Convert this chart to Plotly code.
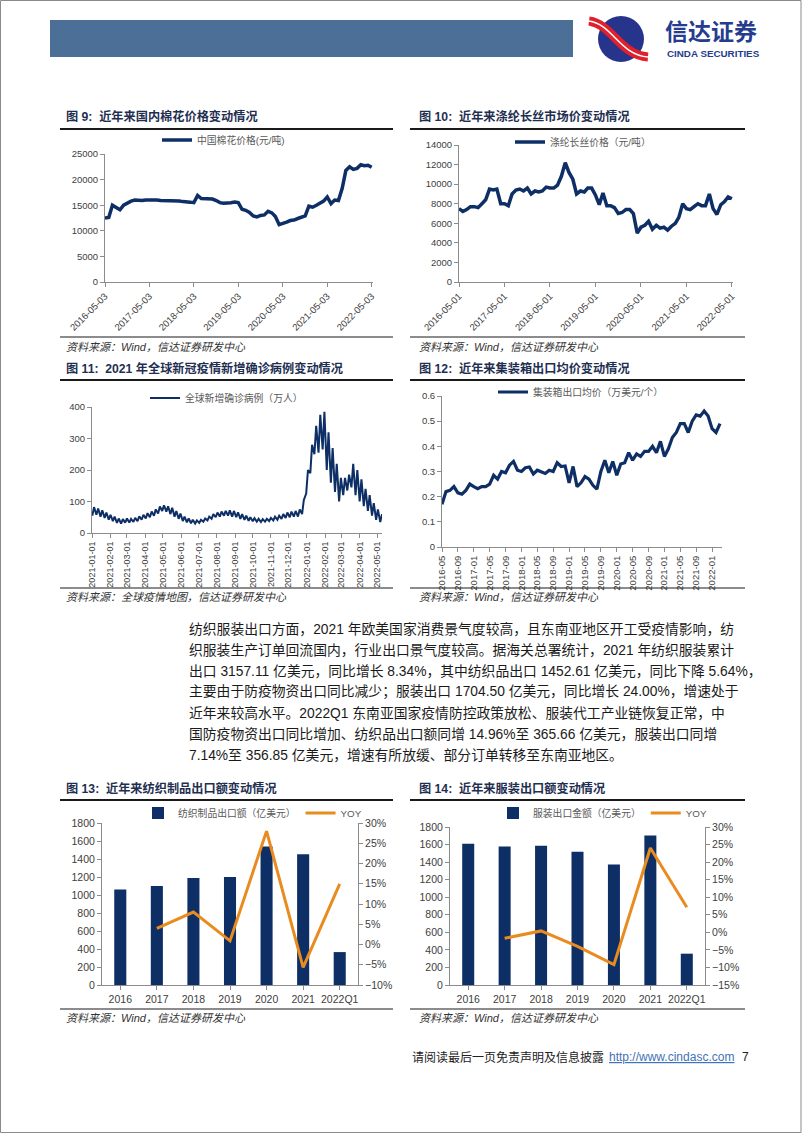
import plotly.graph_objects as go
import pandas as pd

W, H = 802, 1133
def X(px): return px / W
def Y(py): return 1 - py / H

NUM = "Liberation Sans, Arial, Noto Sans CJK SC"
CJK = "Liberation Sans, Noto Sans CJK SC"
NAVY = "#0d2f66"
ORANGE = "#e98c1f"

# ---------------- data ----------------
cotton_price = [12500,12600,15000,14500,14100,15000,15500,15800,16000,15900,
                15900,16000,16000,16100,16000,15900,15900,15900,15900,15900,
                15800,15700,15700,15600,15500,16900,16300,16300,16300,16200,
                15900,15500,15400,15400,15500,15600,15500,14200,14000,13600,
                12900,12700,13000,13100,13800,13500,12800,11200,11400,11700,
                12000,12100,12400,12700,12900,14800,14600,15000,15300,15800,
                16600,15300,16000,15900,18300,21800,22500,22000,22200,22900,
                22700,22800,22400]
cotton_ticks = ["2016-05-03","2017-05-03","2018-05-03","2019-05-03","2020-05-03","2021-05-03","2022-05-03"]

polyester_price = [7500,7200,7400,7700,7700,7600,8000,8400,9500,9400,
                   9500,8000,8000,7800,9000,9400,9500,9300,9600,9000,
                   9300,9200,9300,9700,9600,9600,9900,10800,12200,11200,
                   10500,9000,9300,9200,9600,9600,8900,7900,9100,7800,
                   7800,7600,7000,7100,7400,7400,7000,5000,5600,5800,
                   6200,5400,5800,5500,5600,5300,5700,6000,6600,8000,
                   7500,7400,7700,8000,7800,7800,9000,7500,6900,7900,
                   8200,8700,8500]
polyester_ticks = ["2016-05-01","2017-05-01","2018-05-01","2019-05-01","2020-05-01","2021-05-01","2022-05-01"]

covid_weekly_high = [82,78,72,65,58,52,46,44,46,45,
                     48,53,58,63,68,75,84,88,85,80,
                     70,62,52,46,42,40,42,46,52,60,
                     65,68,70,72,70,66,60,55,50,47,
                     45,44,45,48,52,55,60,65,68,70,
                     75,105,200,280,340,375,385,320,270,220,
                     175,175,185,220,200,170,140,120,95,75,60]
covid_weekly_low = [55,58,52,48,42,38,32,30,33,33,
                    35,38,42,46,50,55,62,70,68,60,
                    52,45,38,34,31,30,32,36,40,45,
                    50,52,55,55,52,50,45,42,39,37,
                    36,35,36,38,40,42,45,48,50,52,
                    52,60,125,190,250,255,265,200,160,130,
                    100,120,135,145,120,100,85,70,55,42,35]
covid_ticks = ["2021-01-01","2021-02-01","2021-03-01","2021-04-01","2021-05-01","2021-06-01",
               "2021-07-01","2021-08-01","2021-09-01","2021-10-01","2021-11-01","2021-12-01",
               "2022-01-01","2022-02-01","2022-03-01","2022-04-01","2022-05-01"]

container_price = [0.17,0.22,0.225,0.24,0.215,0.21,0.225,0.25,0.24,0.232,
                   0.24,0.24,0.25,0.285,0.27,0.30,0.295,0.325,0.34,0.305,
                   0.30,0.315,0.318,0.29,0.305,0.30,0.292,0.305,0.30,0.335,
                   0.32,0.322,0.255,0.32,0.24,0.255,0.28,0.27,0.245,0.23,
                   0.30,0.345,0.295,0.34,0.285,0.33,0.335,0.375,0.345,0.37,
                   0.36,0.38,0.38,0.40,0.375,0.42,0.36,0.39,0.435,0.455,
                   0.49,0.49,0.455,0.50,0.525,0.52,0.54,0.52,0.47,0.455,0.49]

years = ["2016","2017","2018","2019","2020","2021","2022Q1"]
textile_export = [1060,1099,1188,1199,1538,1452.61,365.66]
textile_yoy = [None,0.040,0.080,0.009,0.280,-0.0564,0.1496]
apparel_export = [1610,1579,1587,1518,1374,1704.50,356.85]
apparel_yoy = [None,-0.017,0.004,-0.040,-0.092,0.240,0.0714]

cotton_dates = [pd.Timestamp("2016-05-03") + pd.DateOffset(months=i) for i in range(len(cotton_price))]
polyester_dates = [pd.Timestamp("2016-05-01") + pd.DateOffset(months=i) for i in range(len(polyester_price))]
container_months = [(pd.Timestamp("2016-05-01") + pd.DateOffset(months=i)).strftime("%Y-%m")
                    for i in range(len(container_price))]
covid_x, covid_y = [], []
for i, (lo, hi) in enumerate(zip(covid_weekly_low, covid_weekly_high)):
    d = pd.Timestamp("2021-01-01") + pd.Timedelta(days=7 * i)
    covid_x += [d, d + pd.Timedelta(days=3)]
    covid_y += [lo, hi]

# ---------------- traces ----------------
fig = go.Figure()
fig.add_trace(go.Scatter(x=cotton_dates, y=cotton_price, mode="lines", xaxis="x", yaxis="y",
                         line=dict(color=NAVY, width=3.5), name="中国棉花价格(元/吨)", legend="legend"))
fig.add_trace(go.Scatter(x=polyester_dates, y=polyester_price, mode="lines", xaxis="x2", yaxis="y2",
                         line=dict(color=NAVY, width=3.5), name="涤纶长丝价格（元/吨）", legend="legend2"))
fig.add_trace(go.Scatter(x=covid_x, y=covid_y, mode="lines", xaxis="x3", yaxis="y3",
                         line=dict(color=NAVY, width=2), name="全球新增确诊病例（万人）", legend="legend3"))
fig.add_trace(go.Scatter(x=container_months, y=container_price, mode="lines", xaxis="x4", yaxis="y4",
                         line=dict(color=NAVY, width=3.2), name="集装箱出口均价（万美元/个）", legend="legend4"))
fig.add_trace(go.Bar(x=years, y=textile_export, xaxis="x5", yaxis="y5", width=0.33,
                     marker=dict(color=NAVY, line=dict(width=0)), name="纺织制品出口额（亿美元）", legend="legend5"))
fig.add_trace(go.Scatter(x=years, y=textile_yoy, mode="lines", xaxis="x5", yaxis="y6",
                         line=dict(color=ORANGE, width=3), name="YOY", legend="legend5"))
fig.add_trace(go.Bar(x=years, y=apparel_export, xaxis="x6", yaxis="y7", width=0.33,
                     marker=dict(color=NAVY, line=dict(width=0)), name="服装出口金额（亿美元）", legend="legend6"))
fig.add_trace(go.Scatter(x=years, y=apparel_yoy, mode="lines", xaxis="x6", yaxis="y8",
                         line=dict(color=ORANGE, width=3), name="YOY", legend="legend6"))

def ax(fs=9.5, **kw):
    d = dict(showline=True, linecolor="#8c8c8c", linewidth=1, ticks="outside", ticklen=4,
             tickcolor="#8c8c8c", showgrid=False, zeroline=False, fixedrange=True, automargin=False,
             tickfont=dict(family=NUM, size=fs, color="#404040"))
    d.update(kw)
    return d

def leg(x, y):
    return dict(x=X(x), y=Y(y), xanchor="left", yanchor="middle", orientation="h",
                bgcolor="rgba(0,0,0,0)", font=dict(family=CJK, size=9.8, color="#595959"),
                itemwidth=30, tracegroupgap=0, traceorder="normal", borderwidth=0)

layout = dict(
    template="none",
    width=W, height=H, autosize=False, margin=dict(l=0, r=0, t=0, b=0, pad=0),
    paper_bgcolor="white", plot_bgcolor="white", showlegend=True,
    xaxis=ax(domain=[X(105), X(373)], anchor="y", type="date",
             range=["2016-05-03", "2022-05-14"], tickvals=cotton_ticks, ticktext=cotton_ticks, tickangle=-45),
    yaxis=ax(domain=[Y(282), Y(154)], anchor="x", range=[0, 25000], dtick=5000, tickformat="d"),
    xaxis2=ax(domain=[X(459), X(733)], anchor="y2", type="date",
              range=["2016-05-01", "2022-05-10"], tickvals=polyester_ticks, ticktext=polyester_ticks, tickangle=-45),
    yaxis2=ax(domain=[Y(282), Y(145)], anchor="x2", range=[0, 14000], dtick=2000, tickformat="d"),
    xaxis3=ax(fs=9, domain=[X(92), X(382)], anchor="y3", type="date",
              range=["2020-12-31 12:00", "2022-05-09"], tickvals=covid_ticks, ticktext=covid_ticks, tickangle=-90),
    yaxis3=ax(domain=[Y(533), Y(407)], anchor="x3", range=[0, 400], dtick=100, tickformat="d"),
    xaxis4=ax(fs=9.5, domain=[X(442), X(722)], anchor="y4", type="category", range=[0, 70.5],
              tickvals=container_months[::4], ticktext=container_months[::4], tickangle=-90),
    yaxis4=ax(domain=[Y(547), Y(396)], anchor="x4", range=[0, 0.6], dtick=0.1),
    xaxis5=ax(fs=10.5, domain=[X(102), X(358)], anchor="y5", type="category"),
    yaxis5=ax(fs=10.5, domain=[Y(985), Y(823)], anchor="x5", range=[0, 1800], dtick=200, tickformat="d"),
    yaxis6=ax(fs=10.5, overlaying="y5", anchor="x5", side="right", range=[-0.10, 0.30], dtick=0.05, tickformat=".0%"),
    xaxis6=ax(fs=10.5, domain=[X(450), X(705)], anchor="y7", type="category"),
    yaxis7=ax(fs=10.5, domain=[Y(985), Y(827)], anchor="x6", range=[0, 1800], dtick=200, tickformat="d"),
    yaxis8=ax(fs=10.5, overlaying="y7", anchor="x6", side="right", range=[-0.15, 0.30], dtick=0.05, tickformat=".0%"),
    legend=leg(157, 140),
    legend2=leg(510, 142),
    legend3=leg(145, 398),
    legend4=leg(493, 392),
    legend5=leg(138, 813),
    legend6=leg(493, 813),
)
fig.update_layout(**layout)

shapes = []
def hline(x0, x1, y, w=1.5, c="#1a1a1a"):
    shapes.append(dict(type="line", xref="paper", yref="paper", x0=X(x0), x1=X(x1), y0=Y(y), y1=Y(y),
                       line=dict(color=c, width=w)))

# page border
shapes.append(dict(type="rect", xref="paper", yref="paper", x0=X(0.5), x1=X(801), y0=Y(0.5), y1=Y(1132.5),
                   line=dict(color="#8a8a8a", width=1)))
# header bar
shapes.append(dict(type="rect", xref="paper", yref="paper", x0=X(50), x1=X(573), y0=Y(20), y1=Y(57),
                   fillcolor="#4b6f97", line=dict(width=0)))
# logo
shapes.append(dict(type="circle", xref="paper", yref="paper", x0=X(598), x1=X(644), y0=Y(16), y1=Y(62),
                   fillcolor="#27348b", line=dict(width=0)))
def path(pts):
    s = "M {} {}".format(X(pts[0][0]), Y(pts[0][1]))
    s += " C " + " ".join("{} {}".format(X(a), Y(b)) for a, b in pts[1:])
    return s
swoosh = [(589, 21), (612, 24), (620, 55), (648, 57)]
shapes.append(dict(type="path", xref="paper", yref="paper", path=path(swoosh),
                   line=dict(color="#e0202a", width=9)))
shapes.append(dict(type="path", xref="paper", yref="paper", path=path(swoosh),
                   line=dict(color="white", width=1.5)))

# title / source separators
for (a, b) in [(60, 393), (410, 745)]:
    hline(a, b, 129, 2)
    hline(a, b, 337, 1.2)
    hline(a, b, 380, 2)
    hline(a, b, 588, 1.2)
    hline(a, b, 800, 2)
    hline(a, b, 1009, 1.2)
fig.update_layout(shapes=shapes)

ann = []
def text(x, y, s, size=12, color="#1a1a1a", anchor="left", family=CJK):
    ann.append(dict(xref="paper", yref="paper", x=X(x), y=Y(y), text=s, showarrow=False,
                    xanchor=anchor, yanchor="middle", font=dict(family=family, size=size, color=color)))

text(663, 32, "<b>信达证券</b>", 23, "#253c8f")
text(665, 53, "<b>CINDA SECURITIES</b>", 9.8, "#253c8f")

TC = "#1f2f52"
TS = 12.2
text(64, 116, "<b>图 9:  近年来国内棉花价格变动情况</b>", TS, TC)
text(417, 116, "<b>图 10:  近年来涤纶长丝市场价变动情况</b>", TS, TC)
text(64, 368, "<b>图 11:  2021 年全球新冠疫情新增确诊病例变动情况</b>", TS, TC)
text(417, 368, "<b>图 12:  近年来集装箱出口均价变动情况</b>", TS, TC)
text(64, 788, "<b>图 13:  近年来纺织制品出口额变动情况</b>", TS, TC)
text(417, 788, "<b>图 14:  近年来服装出口额变动情况</b>", TS, TC)

SC = "#333333"
text(64, 347, "<i>资料来源：Wind，信达证券研发中心</i>", 11, SC)
text(417, 347, "<i>资料来源：Wind，信达证券研发中心</i>", 11, SC)
text(64, 597, "<i>资料来源：全球疫情地图，信达证券研发中心</i>", 11, SC)
text(417, 597, "<i>资料来源：Wind，信达证券研发中心</i>", 11, SC)
text(64, 1018, "<i>资料来源：Wind，信达证券研发中心</i>", 11, SC)
text(417, 1018, "<i>资料来源：Wind，信达证券研发中心</i>", 11, SC)

para = [
    "纺织服装出口方面，2021 年欧美国家消费景气度较高，且东南亚地区开工受疫情影响，纺",
    "织服装生产订单回流国内，行业出口景气度较高。据海关总署统计，2021 年纺织服装累计",
    "出口 3157.11 亿美元，同比增长 8.34%，其中纺织品出口 1452.61 亿美元，同比下降 5.64%，",
    "主要由于防疫物资出口同比减少；服装出口 1704.50 亿美元，同比增长 24.00%，增速处于",
    "近年来较高水平。2022Q1 东南亚国家疫情防控政策放松、服装代工产业链恢复正常，中",
    "国防疫物资出口同比增加、纺织品出口额同增 14.96%至 365.66 亿美元，服装出口同增",
    "7.14%至 356.85 亿美元，增速有所放缓、部分订单转移至东南亚地区。",
]
for i, line in enumerate(para):
    text(187, 629 + 21 * i, line, 13.8, "#1a1a1a")

text(410, 1057, "请阅读最后一页免责声明及信息披露", 12, "#222222")
text(607, 1057, "<u>http://www.cindasc.com</u>", 12, "#3f72b8")
text(740, 1057, "7", 12, "#222222")

fig.update_layout(annotations=ann)

fig.write_html("out.html", config={"displayModeBar": False},
               post_script="document.body.style.margin='0';document.body.style.overflow='hidden';")
